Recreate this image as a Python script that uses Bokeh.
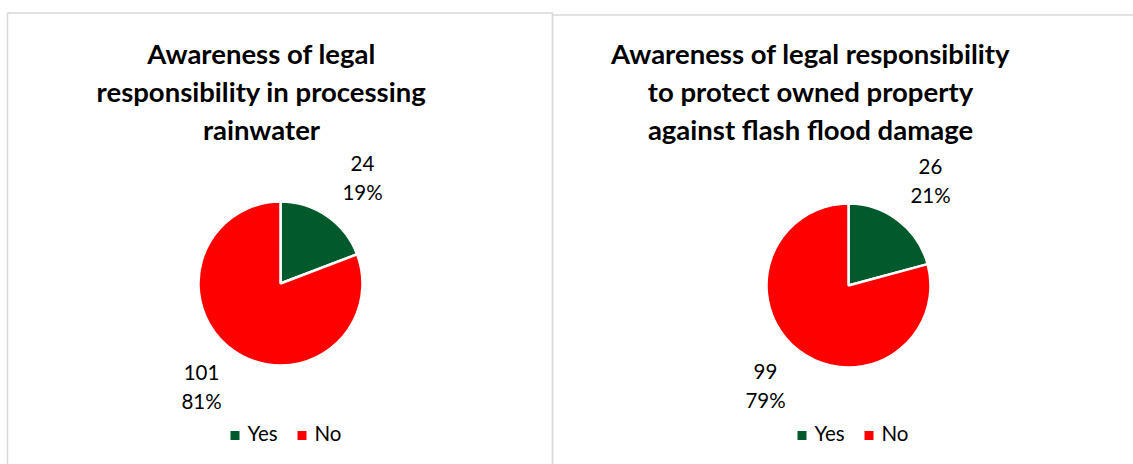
import math
from bokeh.plotting import figure
from bokeh.models import Range1d, ColumnDataSource
from bokeh.core.properties import value
from bokeh.embed import file_html
from bokeh.resources import INLINE

# ---- data ----
categories = ["Yes", "No"]
colors = ["#005A2B", "#FF0000"]
chart1_title = ["Awareness of legal", "responsibility in processing", "rainwater"]
chart1_values = [24, 101]
chart2_title = ["Awareness of legal responsibility", "to protect owned property", "against flash flood damage"]
chart2_values = [26, 99]

W, H = 1133, 464
p = figure(width=W, height=H, output_backend="svg", toolbar_location=None,
           x_range=Range1d(0, W), y_range=Range1d(0, H), min_border=0,
           background_fill_color="white", border_fill_color="white")
p.axis.visible = False
p.grid.visible = False
p.outline_line_color = None

TEXT_SHIFT = 10  # compensates for baseline placement

def Y(ypx):
    return H - ypx

def YT(ypx):
    return H - ypx + TEXT_SHIFT

# panel borders
p.quad(left=[7], right=[552], top=[Y(12.5)], bottom=[Y(470)], fill_color=None,
       line_color="#D9D9D9", line_width=1.5)
p.quad(left=[552], right=[1200], top=[Y(14.5)], bottom=[Y(470)], fill_color=None,
       line_color="#D9D9D9", line_width=1.5)

FONT = value("Lato")

def draw_chart(vals, title_lines, cx, cy, r, title_cx, title_base, label_pos, legend_x):
    total = sum(vals)
    starts, ends = [], []
    a = math.pi / 2
    for v in vals:
        starts.append(a)
        a = a - 2 * math.pi * v / total
        ends.append(a)
    src = ColumnDataSource(dict(cat=categories, start=starts, end=ends, color=colors,
                                x=[cx] * len(vals), y=[Y(cy)] * len(vals)))
    p.wedge(x="x", y="y", radius=r, start_angle="start", end_angle="end", direction="clock",
            fill_color="color", line_color="white", line_width=2.5, source=src)
    # title
    p.text(x=[title_cx] * len(title_lines),
           y=[YT(title_base + i * 38) for i in range(len(title_lines))],
           text=title_lines, text_font=FONT, text_font_style="bold", text_font_size="27.5px",
           text_align="center", text_baseline="alphabetic", text_color="#000000")
    # data labels
    for v, (lx, ly) in zip(vals, label_pos):
        pct = f"{round(100 * v / total)}%"
        p.text(x=[lx, lx], y=[YT(ly), YT(ly + 28)], text=[str(v), pct], text_font=FONT,
               text_font_size="20.5px", text_align="center", text_baseline="alphabetic",
               text_color="#000000")
    # legend
    xs_sq = [legend_x, legend_x + 67]
    p.scatter(x=[x + 4.5 for x in xs_sq], y=[Y(435)] * 2, marker="square", size=9,
              fill_color=colors, line_color=None)
    p.text(x=[x + 17 for x in xs_sq], y=[YT(442)] * 2, text=categories, text_font=FONT,
           text_font_size="20.5px", text_align="left", text_baseline="alphabetic",
           text_color="#000000")

draw_chart(chart1_values, chart1_title, 280, 283, 82, 261, 63,
           [(362, 173), (201, 382)], 230)
draw_chart(chart2_values, chart2_title, 848, 285, 82, 810, 63,
           [(930, 176), (765, 381)], 797)

open("out.html", "w").write(file_html(p, INLINE))
